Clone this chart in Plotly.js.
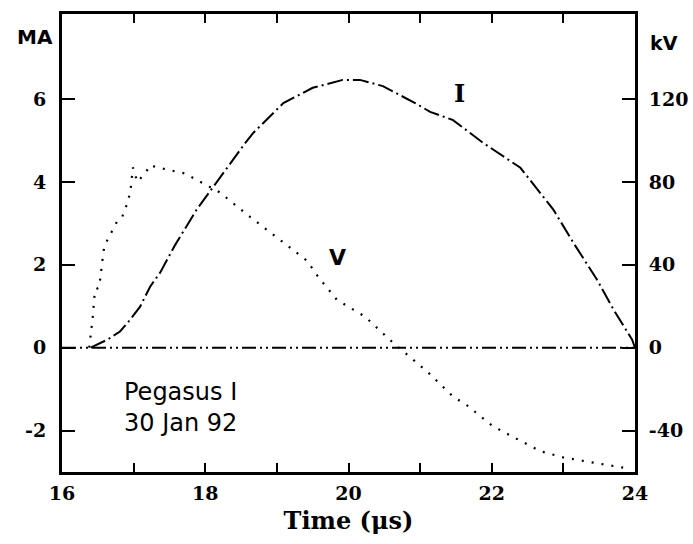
<!DOCTYPE html>
<html>
<head>
<meta charset="utf-8">
<script src="https://cdn.plot.ly/plotly-3.0.1.min.js"></script>
<style>html,body{margin:0;padding:0;background:#fff;}#chart{width:693px;height:544px;}</style>
</head>
<body>
<div id="chart"></div>
<script>
// Time axis (microseconds)
const currentTime = [16.4, 16.63, 16.81, 16.95, 17.09, 17.23, 17.37, 17.58, 17.88, 18.11, 18.56, 18.67, 19.09, 19.5, 19.92, 20.16, 20.48, 20.93, 21.14, 21.46, 21.88, 22.4, 22.86, 23.14, 23.47, 23.7, 23.96, 24.0];
// Current I (MA)
const currentMA = [0, 0.19, 0.39, 0.67, 0.99, 1.47, 1.81, 2.48, 3.33, 3.88, 4.94, 5.18, 5.9, 6.27, 6.46, 6.46, 6.31, 5.9, 5.69, 5.49, 4.94, 4.34, 3.33, 2.53, 1.64, 0.92, 0.19, 0];

const voltageTime = [16.38, 16.43, 16.46, 16.52, 16.56, 16.59, 16.77, 16.84, 16.88, 16.92, 16.96, 16.99, 17.05, 17.16, 17.23, 17.33, 17.72, 17.93, 18.2, 18.63, 19.0, 19.42, 19.58, 19.84, 20.23, 20.4, 20.62, 20.82, 21.1, 21.46, 21.66, 22.02, 22.4, 22.68, 23.0, 23.33, 23.65, 23.85];
// Voltage V (kV)
const voltageKV = [0, 15, 28, 29, 41, 49, 61, 63, 67, 70, 77, 87, 80, 84, 88, 87, 84, 80, 75, 63, 53, 42, 34, 23, 15, 9.6, 2.4, -3.4, -11.6, -23.6, -28, -38, -45, -50, -53, -55, -57, -58];

const baselineTime = [16, 24];
const baselineValue = [0, 0];

const xTickVals = [16, 17, 18, 19, 20, 21, 22, 23, 24];
const xTickText = ["16", "", "18", "", "20", "", "22", "", "24"];
const maTicks = [-2, 0, 2, 4, 6];
const maTickText = ["-2", "0", "2", "4", "6"];
const kvTicks = [-40, 0, 40, 80, 120];
const kvTickText = ["-40", "0", "40", "80", "120"];

const bold = arr => arr.map(s => s ? "<b>" + s + "</b>" : "");
const serif = {family: "DejaVu Serif, Liberation Serif, serif", size: 19, color: "#000", weight: "bold"};
const sansBold = {family: "DejaVu Sans, Liberation Sans, sans-serif", size: 19, color: "#000", weight: "bold"};

const traces = [
  {x: baselineTime, y: baselineValue, mode: "lines", xaxis: "x", yaxis: "y",
   line: {color: "#000", width: 2, dash: "14px,4px,2px,4px,2px,4px"}, hoverinfo: "skip"},
  {x: currentTime, y: currentMA, mode: "lines", name: "I", xaxis: "x", yaxis: "y",
   line: {color: "#000", width: 2, dash: "16px,4px,2px,4px"}},
  {x: voltageTime, y: voltageKV, mode: "lines", name: "V", xaxis: "x", yaxis: "y2",
   line: {color: "#000", width: 2.2, dash: "2px,8px"}}
];

const layout = {
  width: 693, height: 544,
  margin: {l: 62, r: 58, t: 14, b: 72},
  paper_bgcolor: "#fff", plot_bgcolor: "#fff",
  showlegend: false,
  xaxis: {range: [16, 24], tickvals: xTickVals, ticktext: bold(xTickText),
    ticks: "inside", ticklen: 9, tickwidth: 2, tickcolor: "#000",
    showline: true, linewidth: 3, linecolor: "#000", mirror: "ticks",
    showgrid: false, zeroline: false, tickfont: serif, ticklabelstandoff: 2,
    title: {text: "<b>Time (μs)</b>", font: {family: "DejaVu Serif, Liberation Serif, serif", size: 24, color: "#000", weight: "bold"}, standoff: 10}},
  yaxis: {range: [-3, 8.05], tickvals: maTicks, ticktext: bold(maTickText), ticks: "inside", ticklen: 13, tickwidth: 2, tickcolor: "#000",
    showline: true, linewidth: 3, linecolor: "#000", showgrid: false, zeroline: false,
    tickfont: serif, ticklabelstandoff: 9},
  yaxis2: {range: [-60, 161], tickvals: kvTicks, ticktext: bold(kvTickText), overlaying: "y", side: "right",
    ticks: "inside", ticklen: 13, tickwidth: 2, tickcolor: "#000",
    showline: true, linewidth: 3, linecolor: "#000", showgrid: false, zeroline: false,
    tickfont: serif, ticklabelstandoff: 7},
  annotations: [
    {text: "<b>MA</b>", xref: "paper", yref: "paper", x: -0.012, y: 0.95, xanchor: "right", yanchor: "middle", showarrow: false,
     font: {family: "DejaVu Sans, Liberation Sans, sans-serif", size: 20, color: "#000", weight: "bold"}},
    {text: "<b>kV</b>", xref: "paper", yref: "paper", x: 1.022, y: 0.937, xanchor: "left", yanchor: "middle", showarrow: false,
     font: sansBold},
    {text: "<b>I</b>", xref: "x", yref: "y", x: 21.55, y: 6.13, showarrow: false,
     font: {family: "DejaVu Serif, Liberation Serif, serif", size: 24, color: "#000", weight: "bold"}},
    {text: "<b>V</b>", xref: "x", yref: "y", x: 19.85, y: 2.17, showarrow: false,
     font: {family: "DejaVu Sans, Liberation Sans, sans-serif", size: 22, color: "#000", weight: "bold"}},
    {text: "Pegasus I<br>30 Jan 92", xref: "paper", yref: "y", x: 0.105, y: -1.45, xanchor: "left", yanchor: "middle", align: "left", showarrow: false,
     font: {family: "DejaVu Sans, Liberation Sans, sans-serif", size: 24, color: "#000"}}
  ]
};

Plotly.newPlot("chart", traces, layout, {displayModeBar: false, staticPlot: true});
</script>
</body>
</html>
